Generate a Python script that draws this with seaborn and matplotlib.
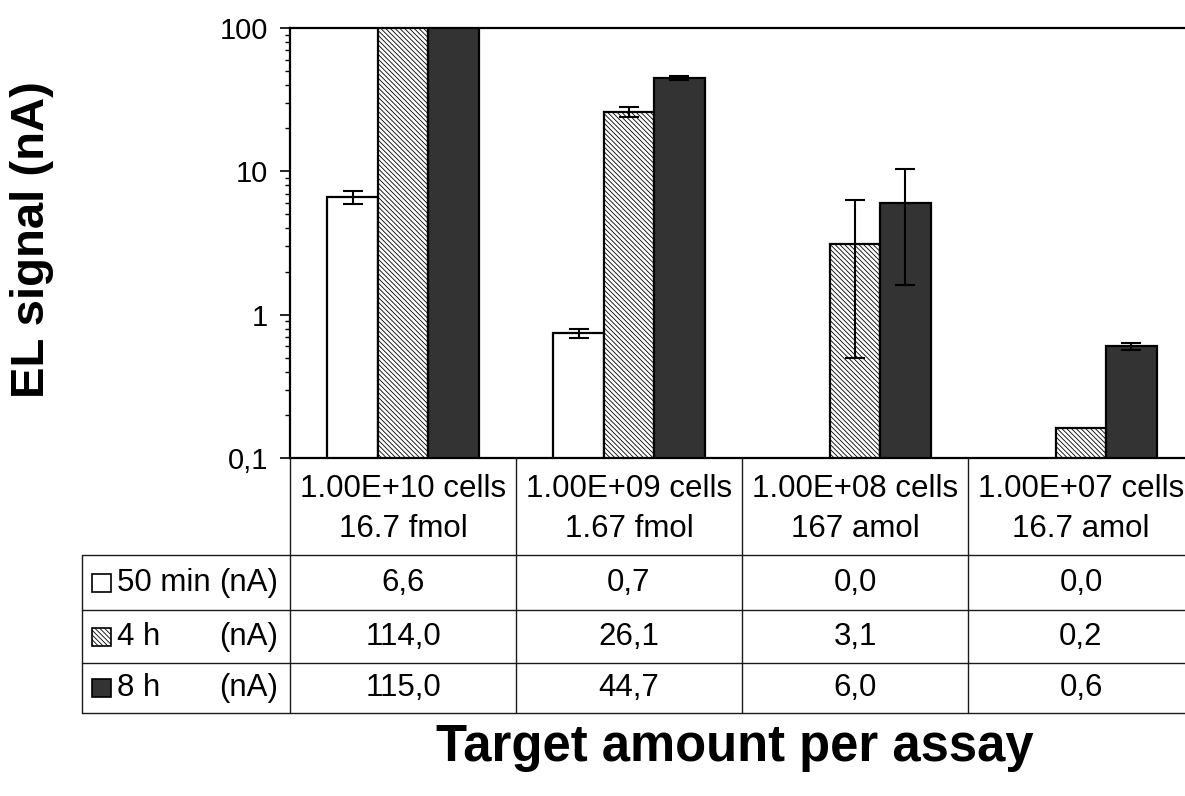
import numpy as np
import pandas as pd
import matplotlib
matplotlib.use("Agg")
import matplotlib.pyplot as plt
import seaborn as sns
from matplotlib.lines import Line2D
from matplotlib.patches import Rectangle
import matplotlib.transforms as mtransforms

# ---------------- data ----------------
categories = ["1.00E+10 cells\n16.7 fmol", "1.00E+09 cells\n1.67 fmol",
              "1.00E+08 cells\n167 amol", "1.00E+07 cells\n16.7 amol"]
series = ["50 min", "4 h", "8 h"]
vals_50min = [6.6, 0.74, 0.0, 0.0]
vals_4h = [114.0, 26.1, 3.1, 0.163]
vals_8h = [115.0, 44.7, 6.0, 0.6]
err_50min_lo = [0.7, 0.05, 0.0, 0.0]
err_50min_hi = [0.7, 0.05, 0.0, 0.0]
err_4h_lo = [0.0, 2.3, 2.6, 0.0]
err_4h_hi = [0.0, 2.0, 3.2, 0.0]
err_8h_lo = [0.0, 1.5, 4.4, 0.03]
err_8h_hi = [0.0, 1.5, 4.3, 0.03]
ytick_vals = [0.1, 1, 10, 100]
ytick_labels = ["0,1", "1", "10", "100"]

values = {"50 min": vals_50min, "4 h": vals_4h, "8 h": vals_8h}
errors = {"50 min": (err_50min_lo, err_50min_hi),
          "4 h": (err_4h_lo, err_4h_hi),
          "8 h": (err_8h_lo, err_8h_hi)}

rows = []
for s in series:
    for i, c in enumerate(categories):
        rows.append({"cat": c, "series": s, "val": values[s][i]})
df = pd.DataFrame(rows)
df_plot = df[df["val"] > 0]

# ---------------- style ----------------
sns.set_style("ticks")
plt.rcParams["font.family"] = ["Liberation Sans", "DejaVu Sans"]
plt.rcParams["hatch.linewidth"] = 0.6
plt.rcParams["hatch.color"] = "black"
plt.rcParams["text.color"] = "black"
plt.rcParams["xtick.color"] = "black"
plt.rcParams["ytick.color"] = "black"
plt.rcParams["xtick.labelcolor"] = "black"
plt.rcParams["ytick.labelcolor"] = "black"

W, H = 1185, 796
fig = plt.figure(figsize=(W / 100, H / 100), dpi=100)
fx = lambda px: px / W
fy = lambda py: 1 - py / H

ax_left, ax_right, ax_top, ax_bottom = 290, 1194, 28, 458
ax = fig.add_axes([fx(ax_left), fy(ax_bottom), fx(ax_right) - fx(ax_left),
                   fy(ax_top) - fy(ax_bottom)])

colors = ["white", "white", "#333333"]
sns.barplot(data=df_plot, x="cat", y="val", hue="series", order=categories,
            hue_order=series, palette=colors, edgecolor="black", linewidth=1.6,
            errorbar=None, width=0.67, legend=False, ax=ax, saturation=1)
ax.set_yscale("log")

hatch = "\\" * 7
for s, cont in zip(series, ax.containers):
    lo, hi = errors[s]
    for p in cont.patches:
        if s == "4 h":
            p.set_hatch(hatch)
        xc = p.get_x() + p.get_width() / 2
        ci = int(round(xc))
        v = values[s][ci]
        if lo[ci] > 0 or hi[ci] > 0:
            ax.errorbar(xc, v, yerr=[[lo[ci]], [hi[ci]]], fmt="none", ecolor="black",
                        elinewidth=1.5, capsize=7, capthick=1.5, zorder=5)

ax.set_ylim(0.1, 100)
ax.set_xlim(-0.5, len(categories) - 0.5)
ax.set_yticks(ytick_vals)
ax.set_yticklabels(ytick_labels, fontsize=21)
ax.yaxis.set_minor_locator(matplotlib.ticker.LogLocator(base=10, subs=np.arange(2, 10)))
ax.yaxis.set_minor_formatter(matplotlib.ticker.NullFormatter())
ax.tick_params(axis="y", which="major", length=7, width=1.2, direction="out", pad=9)
ax.tick_params(axis="y", which="minor", length=3.5, width=1.0, direction="out")
ax.set_xticks([])
ax.set_xlabel("")
ax.set_ylabel("")
for side in ["left", "bottom", "top"]:
    ax.spines[side].set_visible(True)
    ax.spines[side].set_linewidth(1.6)
    ax.spines[side].set_color("black")
ax.spines["right"].set_visible(False)

# ---------------- table ----------------
blend = mtransforms.blended_transform_factory(ax.transData, fig.transFigure)
tcolor = "#1a1a1a"
line_kw = dict(color=tcolor, linewidth=1.0)

row_lines = [555, 610, 663, 713]
table_left = 82
for yl in row_lines:
    fig.add_artist(Line2D([fx(table_left), 1.0], [fy(yl), fy(yl)], transform=fig.transFigure, **line_kw))
fig.add_artist(Line2D([fx(table_left), fx(table_left)], [fy(row_lines[0]), fy(row_lines[-1])],
                      transform=fig.transFigure, **line_kw))
for b in np.arange(len(categories)) - 0.5:
    fig.add_artist(Line2D([b, b], [fy(ax_bottom), fy(row_lines[-1])], transform=blend, **line_kw))

for i, c in enumerate(categories):
    fig.text(i, fy(509), c, transform=blend, ha="center", va="center",
             fontsize=22.5, linespacing=1.45, multialignment="center", color="black")

row_centers = [583, 637, 688]
for s, yc in zip(series, row_centers):
    for i in range(len(categories)):
        txt = f"{values[s][i]:.1f}".replace(".", ",")
        fig.text(i, fy(yc), txt, transform=blend, ha="center", va="center",
                 fontsize=22.5, color="black")
    sw = Rectangle((fx(92), fy(yc + 9)), fx(111) - fx(92), fy(yc - 9) - fy(yc + 9),
                   transform=fig.transFigure, facecolor=colors[series.index(s)],
                   edgecolor="black", linewidth=1.2,
                   hatch=(hatch if s == "4 h" else None))
    fig.add_artist(sw)
    fig.text(fx(117), fy(yc), s, ha="left", va="center", fontsize=22.5, color="black")
    fig.text(fx(278), fy(yc), "(nA)", ha="right", va="center", fontsize=22.5, color="black")

# ---------------- axis titles ----------------
fig.text(fx(32), fy(240), "EL signal (nA)", rotation=90, ha="center", va="center",
         fontsize=34, fontweight="bold", color="black")
fig.text(fx(735), fy(747), "Target amount per assay", ha="center", va="center",
         fontsize=36.5, fontweight="bold", color="black")

fig.savefig("out.png", dpi=100, facecolor="white")
